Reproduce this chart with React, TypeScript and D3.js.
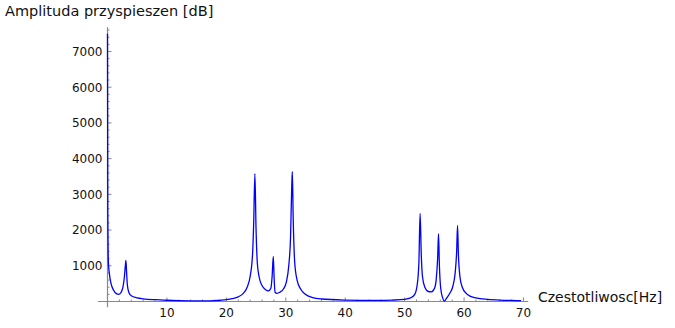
import React from "react";
import * as d3 from "d3";

const WIDTH = 675;
const HEIGHT = 328;

// Spectrum: frequency [Hz]
const freqs = [
  0, 0.05, 0.15, 0.3, 0.6, 1.0, 1.5, 1.9, 2.3, 2.6, 2.85, 3.0, 3.1, 3.2, 3.35, 3.6, 4.0, 5, 6, 8, 10, 12, 14, 16, 18, 19, 20, 21, 22, 22.8, 23.5, 24.0, 24.4, 24.6, 24.8, 25.0, 25.2, 25.5, 26.0, 26.6, 27.1, 27.5, 27.7, 27.9, 28.05, 28.2, 28.5, 29.0, 29.6, 30.1, 30.5, 30.8, 31.0, 31.1, 31.25, 31.5, 31.9, 32.5, 33.3, 34.5, 36, 40, 45, 48, 50, 51, 51.7, 52.1, 52.4, 52.6, 52.8, 53.0, 53.4, 54.0, 54.5, 55.0, 55.3, 55.55, 55.7, 55.85, 56.05, 56.4, 56.65, 57.0, 57.6, 58.1, 58.5, 58.75, 58.9, 59.05, 59.3, 59.7, 60.4, 61, 62, 64, 66, 68, 69.6,
];
// Amplitude [dB]
const amps = [
  7500, 2500, 1100, 800, 500, 320, 220, 200, 260, 400, 700, 1000, 1150, 850, 450, 250, 160, 100, 75, 50, 35, 25, 20, 18, 25, 35, 50, 80, 130, 220, 400, 700, 1300, 2200, 3580, 2000, 1100, 700, 450, 330, 300, 380, 700, 1260, 600, 260, 230, 260, 350, 550, 1000, 1800, 3200, 3640, 2300, 1100, 600, 350, 200, 110, 70, 40, 30, 40, 60, 100, 200, 450, 1100, 2465, 1300, 700, 400, 280, 270, 360, 600, 1200, 1900, 1000, 400, 100, 10, 80, 230, 420, 800, 1400, 2130, 1300, 700, 400, 220, 150, 100, 60, 40, 30, 25,
];

const xTicks = [10, 20, 30, 40, 50, 60, 70];
const yTicks = [1000, 2000, 3000, 4000, 5000, 6000, 7000];
const xMinorStep = 2;
const yMinorStep = 200;

const title = "Amplituda przyspieszen [dB]";
const xLabel = "Czestotliwosc[Hz]";

export default function App() {
  const x = d3.scaleLinear().domain([0, 70]).range([107.5, 523.5]);
  const y = d3.scaleLinear().domain([0, 7000]).range([301.5, 51.5]);

  const xMin = -1.6, xMax = 70.8;
  const yMin = -160, yMax = 7680;

  const xMinor = d3.range(0, xMax, xMinorStep).filter((v) => !xTicks.includes(v));
  const yMinor = d3.range(-200, yMax, yMinorStep).filter((v) => v >= yMin && !yTicks.includes(v) && v !== 0);

  const pts: [number, number][] = freqs.map((f, i) => [f, amps[i]]);
  const line = d3
    .line<[number, number]>()
    .x((d) => x(d[0]))
    .y((d) => y(d[1]))
    .curve(d3.curveMonotoneX);

  const axisColor = "#888888";
  const font = "DejaVu Sans, sans-serif";

  return (
    <svg
      width={WIDTH}
      height={HEIGHT}
      style={{ position: "absolute", left: 0, top: 0, background: "#fff" }}
      fontFamily={font}
    >
      <rect width={WIDTH} height={HEIGHT} fill="#fff" />
      {/* axes */}
      <line x1={x(xMin)} x2={x(xMax)} y1={y(0)} y2={y(0)} stroke={axisColor} strokeWidth={1.2} />
      <line x1={x(0)} x2={x(0)} y1={y(yMin)} y2={y(yMax)} stroke={axisColor} strokeWidth={1.2} />
      {/* x ticks */}
      {xMinor.map((v) => (
        <line key={"xm" + v} x1={x(v)} x2={x(v)} y1={y(0)} y2={y(0) - 2} stroke={axisColor} strokeWidth={1} />
      ))}
      {xTicks.map((v) => (
        <g key={"x" + v}>
          <line x1={x(v)} x2={x(v)} y1={y(0)} y2={y(0) - 4} stroke={axisColor} strokeWidth={1} />
          <text x={x(v)} y={316.5} fontSize={12} textAnchor="middle" fill="#111">
            {v}
          </text>
        </g>
      ))}
      {/* y ticks */}
      {yMinor.map((v) => (
        <line key={"ym" + v} x1={x(0)} x2={x(0) + 2} y1={y(v)} y2={y(v)} stroke={axisColor} strokeWidth={1} />
      ))}
      {yTicks.map((v) => (
        <g key={"y" + v}>
          <line x1={x(0)} x2={x(0) + 4} y1={y(v)} y2={y(v)} stroke={axisColor} strokeWidth={1} />
          <text x={102.5} y={y(v)} dy="0.36em" fontSize={12} textAnchor="end" fill="#111">
            {v}
          </text>
        </g>
      ))}
      {/* data */}
      <path d={line(pts) || ""} fill="none" stroke="#0000ff" strokeWidth={1.3} />
      {/* labels */}
      <text x={5} y={15.7} fontSize={14.5} fill="#111">
        {title}
      </text>
      <text x={538} y={301.7} fontSize={14} fill="#111">
        {xLabel}
      </text>
    </svg>
  );
}
